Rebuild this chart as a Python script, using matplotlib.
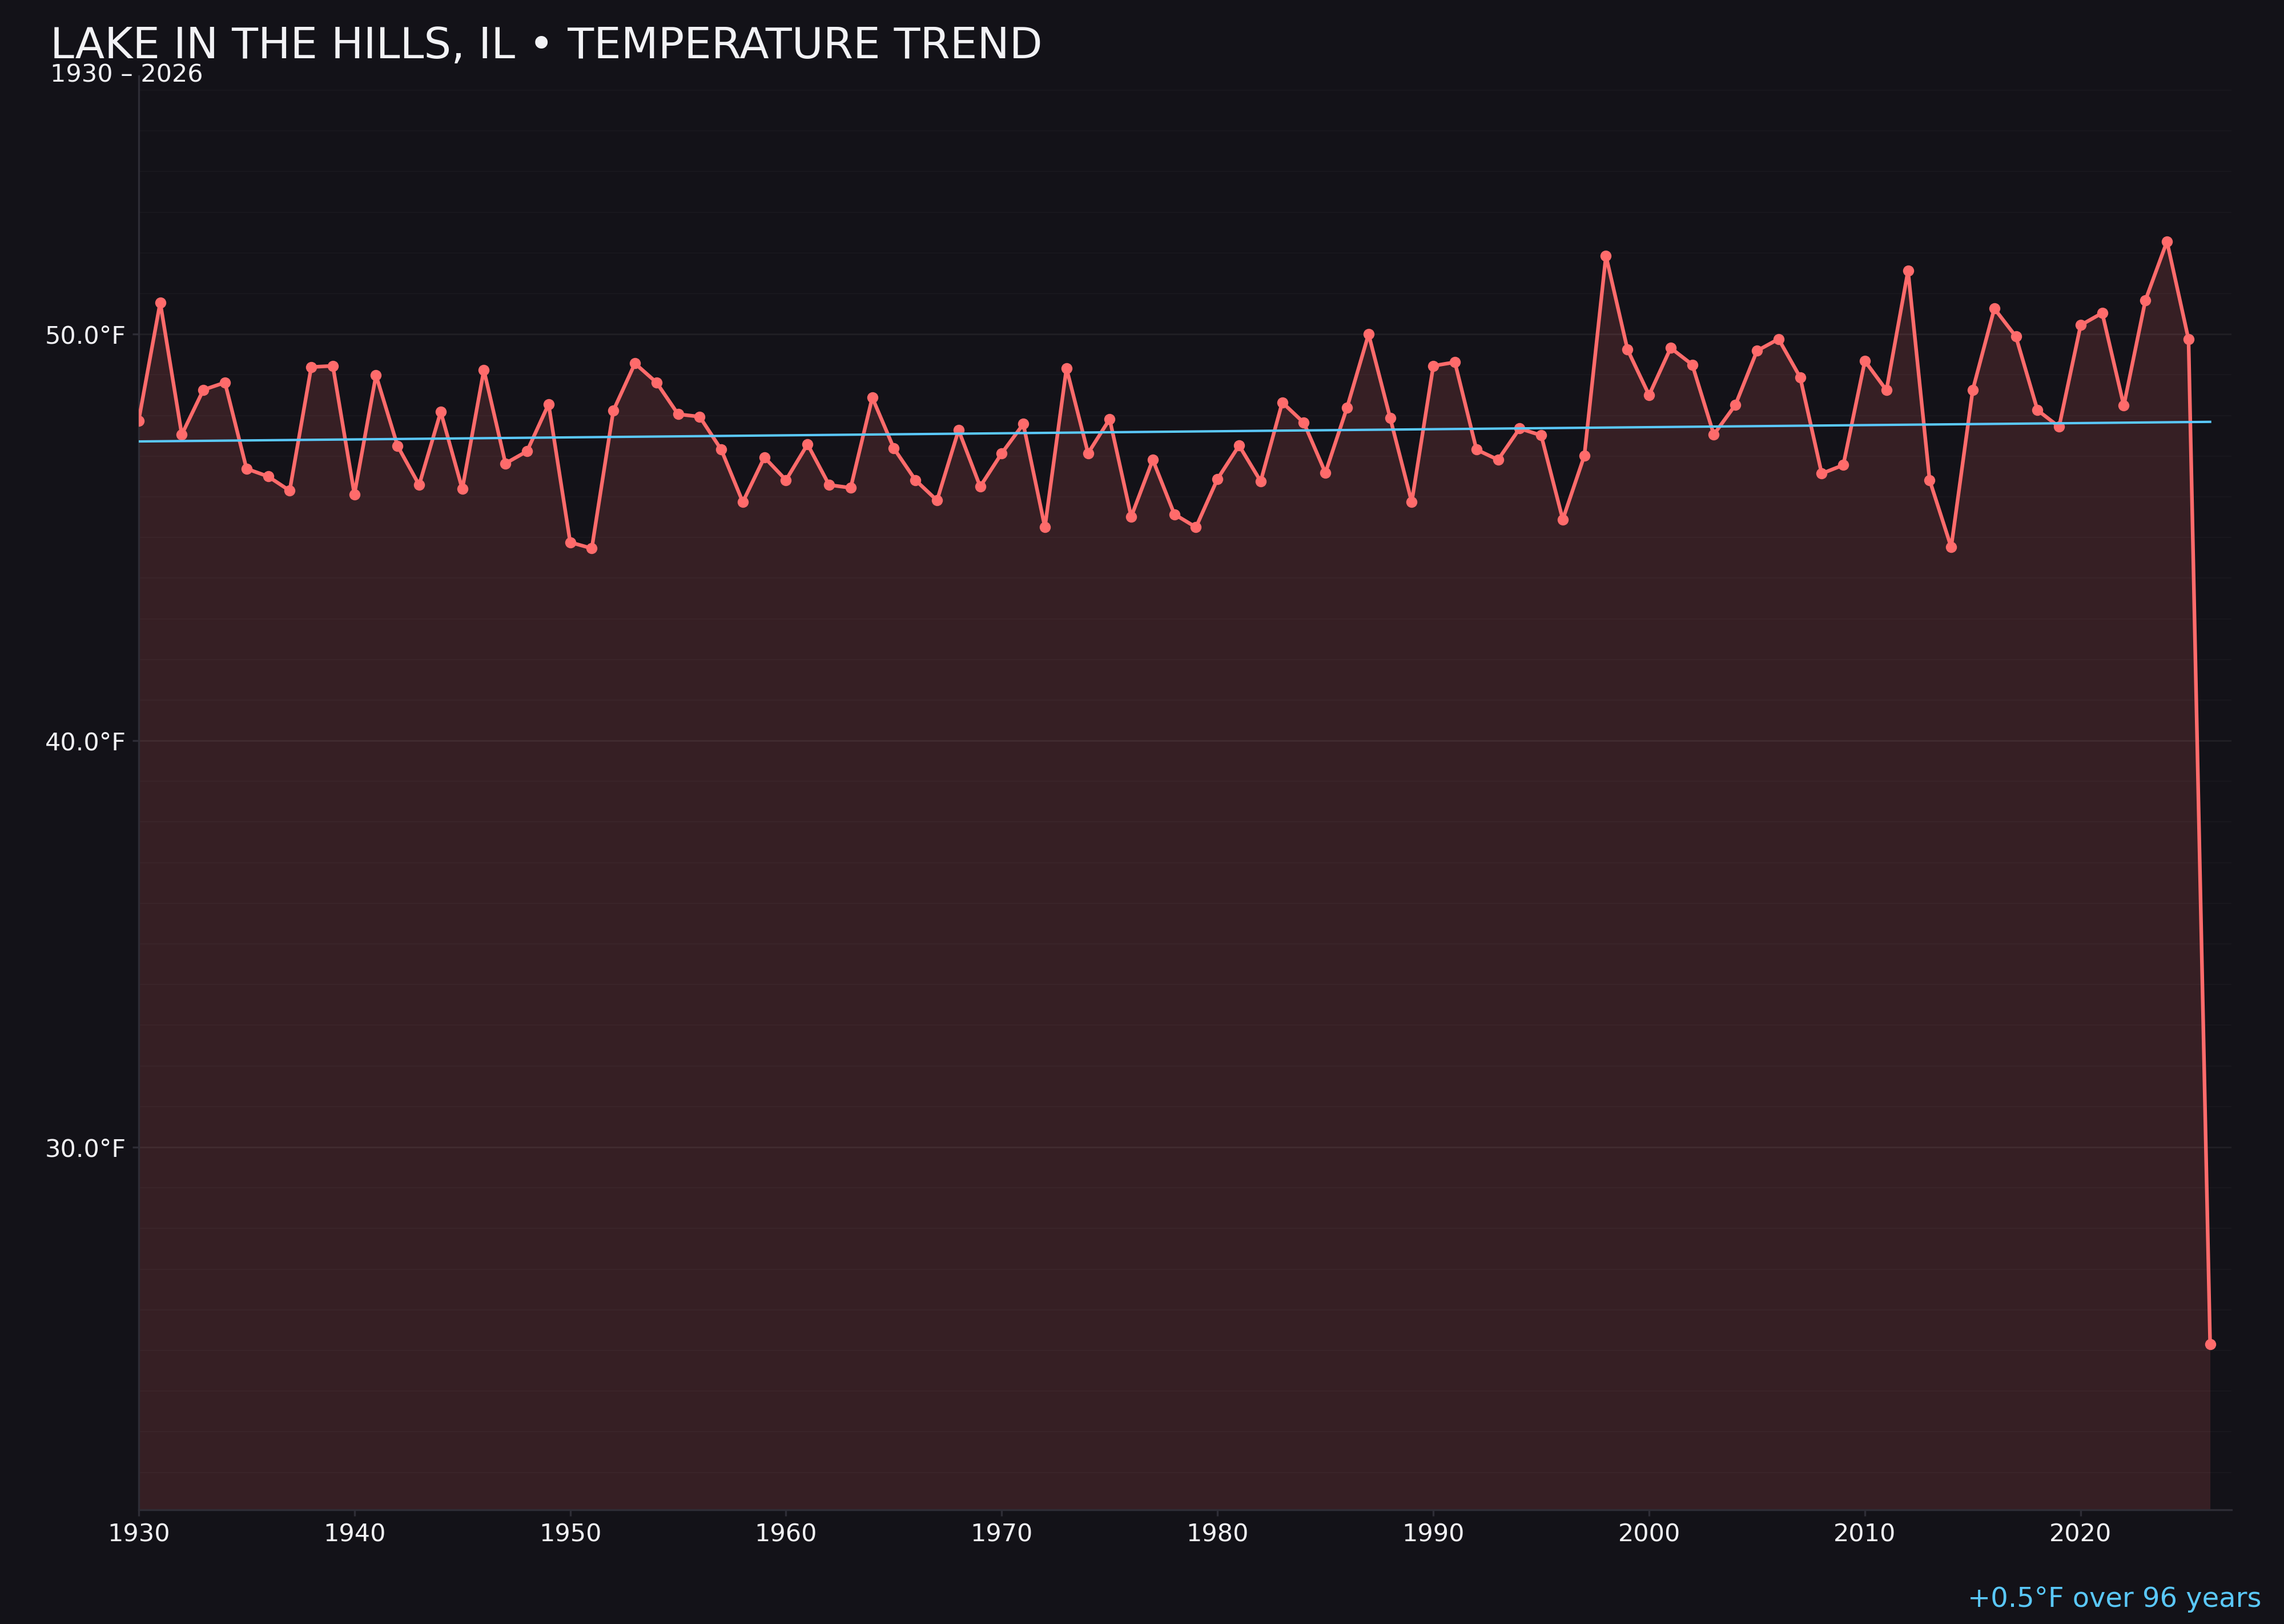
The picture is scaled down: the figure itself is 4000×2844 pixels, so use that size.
import numpy as np
import matplotlib
matplotlib.use("Agg")
import matplotlib.pyplot as plt
from matplotlib.ticker import MultipleLocator, FuncFormatter

# annual mean temperature (°F)
years = list(range(1930, 2027))
temps = [
    47.87, 50.78, 47.53, 48.63, 48.81, 46.69, 46.50, 46.15, 49.19, 49.22,  # 1930s
    46.06, 48.99, 47.25, 46.29, 48.09, 46.19, 49.12, 46.82, 47.12, 48.28,  # 1940s
    44.88, 44.73, 48.12, 49.28, 48.81, 48.03, 47.97, 47.16, 45.87, 46.97,  # 1950s
    46.41, 47.29, 46.29, 46.22, 48.44, 47.19, 46.41, 45.91, 47.64, 46.25,  # 1960s
    47.07, 47.79, 45.25, 49.16, 47.07, 47.91, 45.51, 46.91, 45.57, 45.25,  # 1970s
    46.44, 47.26, 46.38, 48.32, 47.82, 46.59, 48.19, 50.00, 47.94, 45.87,  # 1980s
    49.22, 49.31, 47.16, 46.91, 47.68, 47.51, 45.44, 47.01, 51.93, 49.62,  # 1990s
    48.50, 49.66, 49.25, 47.53, 48.26, 49.59, 49.88, 48.94, 46.57, 46.78,  # 2000s
    49.34, 48.62, 51.56, 46.41, 44.76, 48.63, 50.63, 49.94, 48.13, 47.72,  # 2010s
    50.22, 50.52, 48.24, 50.83, 52.28, 49.87, 25.15,                       # 2020s
]
x_ticks = [1930, 1940, 1950, 1960, 1970, 1980, 1990, 2000, 2010, 2020]
y_ticks = [30, 40, 50]

bg = "#131218"
line_col = "#ff6b6b"
trend_col = "#5ac8fa"
text_col = "#f2f2f5"

yrs = np.array(years)
t = np.array(temps)

# linear trend over every year shown
coef = np.polyfit(yrs, t, 1)
trend = np.polyval(coef, yrs)
change = trend[-1] - trend[0]

span = t.max() - t.min()
ymin = t.min() - 0.15 * span
ymax = t.max() + 0.15 * span

fig = plt.figure(figsize=(20, 14.22), dpi=200, facecolor=bg)
ax = fig.add_axes([0.0607, 0.0703, 0.9164, 0.8829])
ax.set_facecolor(bg)

ax.fill_between(yrs, t, ymin, color=line_col, alpha=0.15, linewidth=0)
ax.plot(yrs, t, color=line_col, linewidth=2.3, marker="o", markersize=6, zorder=3)
ax.plot(yrs, trend, color=trend_col, linewidth=1.5, zorder=4)

ax.set_xlim(1930, 2027)
ax.set_ylim(ymin, ymax)
ax.set_xticks(x_ticks)
ax.set_yticks(y_ticks)
ax.yaxis.set_minor_locator(MultipleLocator(1))
ax.yaxis.set_major_formatter(FuncFormatter(lambda v, p: f"{v:.1f}°F"))

ax.grid(True, axis="y", which="major", color="#ffffff", alpha=0.06, linewidth=1.0)
ax.grid(True, axis="y", which="minor", color="#ffffff", alpha=0.022, linewidth=0.8)
ax.tick_params(axis="y", which="minor", length=0)
ax.tick_params(which="major", colors="#2e2d36", labelcolor=text_col,
               labelsize=15.5, length=4, width=1.2, pad=4)

for side in ["top", "right"]:
    ax.spines[side].set_visible(False)
for side in ["left", "bottom"]:
    ax.spines[side].set_color("#2e2d36")
    ax.spines[side].set_linewidth(1.2)

fig.text(0.022, 0.9642, "LAKE IN THE HILLS, IL • TEMPERATURE TREND",
         color=text_col, fontsize=27.1, va="baseline", ha="left")
fig.text(0.022, 0.9495, f"{years[0]} – {years[-1]}", color=text_col,
         fontsize=15.5, va="baseline", ha="left")
fig.text(0.990, 0.0105, f"{change:+.1f}°F over {years[-1] - years[0]} years",
         color=trend_col, fontsize=17.3, va="baseline", ha="right")

fig.savefig("out.png", dpi=200, facecolor=bg)
